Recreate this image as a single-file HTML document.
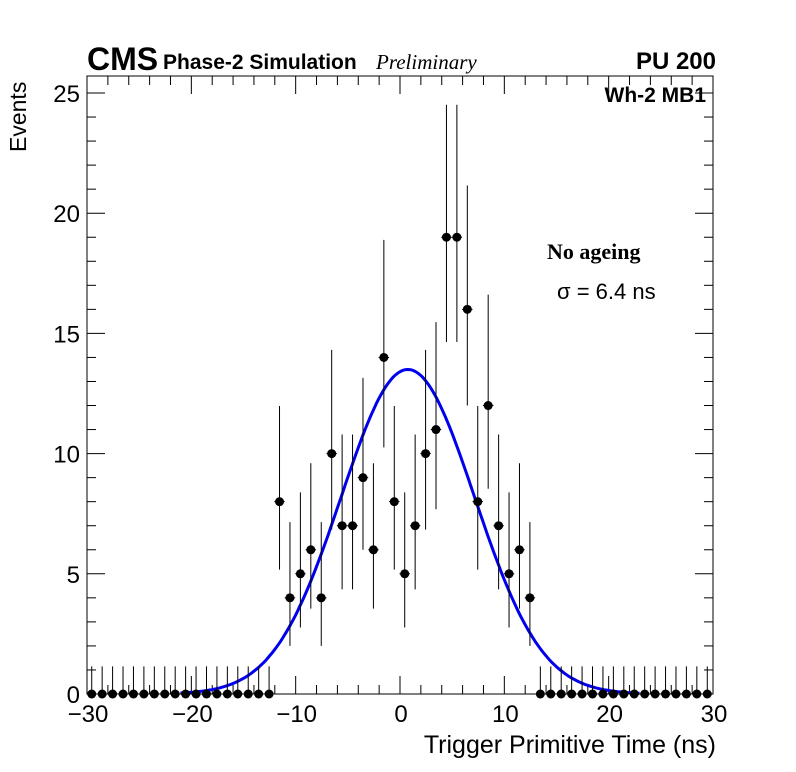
<!DOCTYPE html>
<html><head><meta charset="utf-8"><style>
body{margin:0;background:#fff;}
svg{display:block;font-family:"Liberation Sans",sans-serif;}
</style></head><body>
<svg id="chart" width="796" height="772">
<rect x="87" y="76" width="626" height="618" fill="none" stroke="#000" stroke-width="1"/>
<g id="ticks"></g>
<g id="curve"></g>
<g id="points"></g>
<text x="87" y="70" font-size="32" font-weight="bold">CMS</text>
<text x="163" y="69" font-size="21" font-weight="bold">Phase-2 Simulation</text>
<text x="376" y="69" font-size="21" font-style="italic" font-family="Liberation Serif,serif">Preliminary</text>
<text x="716" y="69" font-size="24" font-weight="bold" text-anchor="end">PU 200</text>
<text x="706" y="102" font-size="21" font-weight="bold" text-anchor="end">Wh-2 MB1</text>
<text x="547" y="259" font-size="22" font-weight="bold" font-family="Liberation Serif,serif">No ageing</text>
<text x="557" y="299" font-size="22">σ = 6.4 ns</text>
<text x="716" y="753" font-size="25" text-anchor="end">Trigger Primitive Time (ns)</text>
<text transform="translate(26,152) rotate(-90)" font-size="23">Events</text>
</svg>
<script>
const xTicks=[-30,-20,-10,0,10,20,30];
const xTickLabels=["\u221230","\u221220","\u221210","0","10","20","30"];
const yTicks=[0,5,10,15,20,25];
const yTickLabels=["0","5","10","15","20","25"];
const binCenters=[];for(let i=0;i<60;i++)binCenters.push(-29.5+i);
const counts=[0,0,0,0,0,0,0,0,0,0,0,0,0,0,0,0,0,0,
8,4,5,6,4,10,7,7,9,6,14,8,5,7,10,11,19,19,16,8,12,7,5,6,4,
0,0,0,0,0,0,0,0,0,0,0,0,0,0,0,0,0];
const fitMean=0.8, fitSigma=6.4, fitAmp=13.5;
const NS="http://www.w3.org/2000/svg";
const X=v=>399.5+v*10.433, Y=v=>694-v*24.04;
function mk(tag,attrs,parent){const e=document.createElementNS(NS,tag);for(const k in attrs)e.setAttribute(k,attrs[k]);document.getElementById(parent).appendChild(e);return e;}
const XT=v=>400+v*10.433;
for(let v=-30;v<=30;v+=2){const major=v%10===0;const l=major?18:9;
 let t=mk('line',{x1:XT(v),x2:XT(v),y1:694,y2:694-l,stroke:'#000'},'ticks');
 
 t=mk('line',{x1:XT(v),x2:XT(v),y1:76,y2:76+l,stroke:'#000'},'ticks');
 }
for(let v=0;v<=25.5;v+=1){const major=v%5===0;const l=major?18:9;
 let t=mk('line',{x1:87,x2:87+l,y1:Y(v),y2:Y(v),stroke:'#000'},'ticks');
 
 t=mk('line',{x1:713,x2:713-l,y1:Y(v),y2:Y(v),stroke:'#000'},'ticks');
 }
xTicks.forEach((v,i)=>{const t=mk('text',{x:XT(v)+1,y:722,'font-size':24,'text-anchor':'middle'},'ticks');t.textContent=xTickLabels[i];
 });
yTicks.forEach((v,i)=>{const t=mk('text',{x:80,y:Y(v)+9,'font-size':24,'text-anchor':'end'},'ticks');t.textContent=yTickLabels[i];
 });
let d='';for(let x=-21;x<=23;x+=0.2){const y=fitAmp*Math.exp(-0.5*((x-fitMean)/fitSigma)**2);d+=(d?'L':'M')+X(x).toFixed(1)+','+Y(y).toFixed(1);}
const c=mk('path',{d:d,fill:'none',stroke:'#0000ee','stroke-width':3},'curve');

binCenters.forEach((x,i)=>{const n=counts[i];const up=Math.sqrt(n)+1.15, lo=Math.sqrt(n);
 const g=mk('g',{},'points');
 
 const px=X(x),py=Y(n);
 const a=document.createElementNS(NS,'path');
 a.setAttribute('d',`M${px},${Y(n+up)}L${px},${Y(Math.max(0,n-lo))}M${X(x-0.5)},${py}L${X(x+0.5)},${py}`);
 a.setAttribute('stroke','#000');a.setAttribute('stroke-width','1');g.appendChild(a);
 const ci=document.createElementNS(NS,'circle');ci.setAttribute('cx',px);ci.setAttribute('cy',py);ci.setAttribute('r',4.5);ci.setAttribute('fill','#000');g.appendChild(ci);
});
</script>
</body></html>
